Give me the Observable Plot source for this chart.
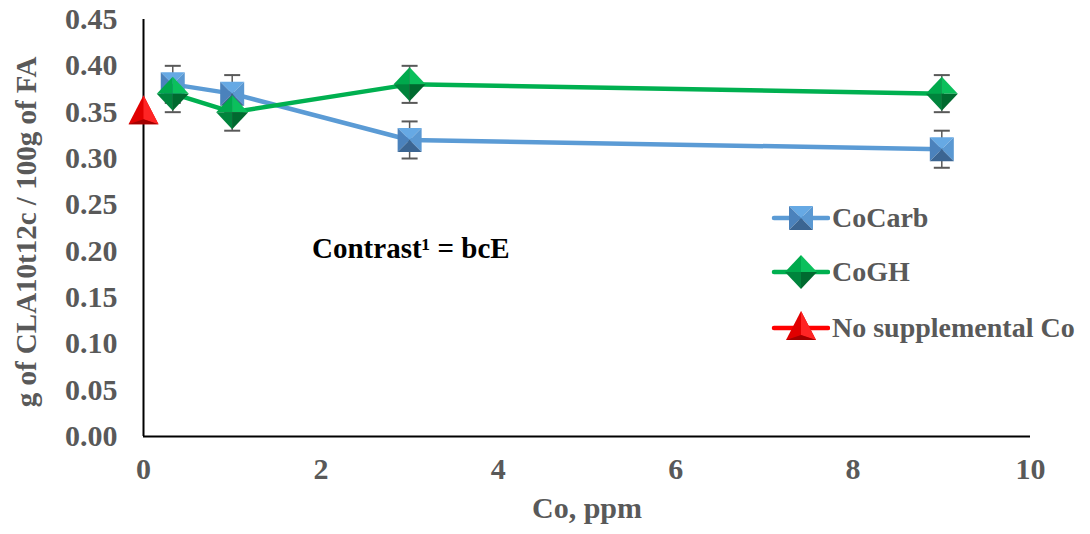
<!DOCTYPE html>
<html><head><meta charset="utf-8">
<script src="https://cdn.jsdelivr.net/npm/d3@7"></script>
<script src="https://cdn.jsdelivr.net/npm/@observablehq/plot@0.6"></script>
<style>
body{margin:0;background:#fff;}
#wrap{position:relative;width:1090px;height:534px;overflow:hidden;}
.leg{position:absolute;left:770px;height:36px;display:flex;align-items:center;font-family:"Liberation Serif","Times New Roman",serif;font-weight:bold;font-size:28px;color:#595959;white-space:nowrap;}
.leg svg{display:block;margin-right:2px;}
</style></head><body><div id="wrap"></div>
<script>
// ---- data ----
const doses = [0.33, 1, 3, 9];
const coCarb = [0.38, 0.37, 0.32, 0.31];
const coCarbErr = [0.02, 0.02, 0.02, 0.02];
const coGH = [0.37, 0.35, 0.38, 0.37];
const coGHErr = [0.02, 0.02, 0.02, 0.02];
const controlDose = [0];
const control = [0.35];
const xTicks = [0, 2, 4, 6, 8, 10];
const yTicks = [0, 0.05, 0.10, 0.15, 0.20, 0.25, 0.30, 0.35, 0.40, 0.45];
const seriesNames = ["CoCarb", "CoGH", "No supplemental Co"];

const carb = doses.map((x, i) => ({x, y: coCarb[i], e: coCarbErr[i]}));
const gh = doses.map((x, i) => ({x, y: coGH[i], e: coGHErr[i]}));
const ctrl = controlDose.map((x, i) => ({x, y: control[i]}));

// ---- custom marker facets ----
const poly = (pts) => ({draw(ctx) { ctx.moveTo(pts[0][0], pts[0][1]); for (let i = 1; i < pts.length; i++) ctx.lineTo(pts[i][0], pts[i][1]); ctx.closePath(); }});
const h = 12;
const sq = {
  top: poly([[-h,-h],[h,-h],[0,0]]),
  left: poly([[-h,-h],[-h,h],[0,0]]),
  right: poly([[h,-h],[h,h],[0,0]]),
  bottom: poly([[-h,h],[h,h],[0,0]])
};
const dw = 16, dh = 17;
const dia = {
  tl: poly([[0,-dh],[-dw,0],[0,0]]),
  tr: poly([[0,-dh],[dw,0],[0,0]]),
  bl: poly([[-dw,0],[0,dh],[0,0]]),
  br: poly([[dw,0],[0,dh],[0,0]])
};
const tri = {
  all: poly([[0,-17],[-15,12],[15,12]]),
  right: poly([[0,-17],[15,12],[0,7]]),
  bottom: poly([[-15,12],[15,12],[0,7]])
};
const cap = {draw(ctx) { ctx.moveTo(-8, 0); ctx.lineTo(8, 0); }};

const squareMarks = (data) => [
  Plot.dot(data, {x:"x", y:"y", symbol: sq.top, r: 5, fill:"#66A9E4", stroke:"none"}),
  Plot.dot(data, {x:"x", y:"y", symbol: sq.right, r: 5, fill:"#5A98D2", stroke:"none"}),
  Plot.dot(data, {x:"x", y:"y", symbol: sq.left, r: 5, fill:"#4B82BC", stroke:"none"}),
  Plot.dot(data, {x:"x", y:"y", symbol: sq.bottom, r: 5, fill:"#3B6592", stroke:"none"})
];
const diamondMarks = (data) => [
  Plot.dot(data, {x:"x", y:"y", symbol: dia.tl, r: 5, fill:"#00A94C", stroke:"none"}),
  Plot.dot(data, {x:"x", y:"y", symbol: dia.tr, r: 5, fill:"#0BC05C", stroke:"none"}),
  Plot.dot(data, {x:"x", y:"y", symbol: dia.bl, r: 5, fill:"#00843C", stroke:"none"}),
  Plot.dot(data, {x:"x", y:"y", symbol: dia.br, r: 5, fill:"#006A2F", stroke:"none"})
];
const triangleMarks = (data) => [
  Plot.dot(data, {x:"x", y:"y", symbol: tri.all, r: 5, fill:"#E00000", stroke:"none"}),
  Plot.dot(data, {x:"x", y:"y", symbol: tri.right, r: 5, fill:"#FF2424", stroke:"none"}),
  Plot.dot(data, {x:"x", y:"y", symbol: tri.bottom, r: 5, fill:"#A30000", stroke:"none"})
];
const errMarks = (data) => [
  Plot.ruleX(data, {x:"x", y1: d => d.y - d.e, y2: d => d.y + d.e, stroke:"#595959", strokeWidth:1.5}),
  Plot.dot(data, {x:"x", y: d => d.y + d.e, symbol: cap, r: 5, stroke:"#595959", strokeWidth:2, fill:"none"}),
  Plot.dot(data, {x:"x", y: d => d.y - d.e, symbol: cap, r: 5, stroke:"#595959", strokeWidth:2, fill:"none"})
];

const font = '"Liberation Serif","Times New Roman",serif';

const chart = Plot.plot({
  width: 1090,
  height: 534,
  marginLeft: 143,
  marginRight: 60,
  marginTop: 19,
  marginBottom: 98,
  style: {fontFamily: font, fontSize: "30px", fontWeight: "bold", color: "#595959", background: "#fff", overflow: "visible"},
  x: {domain: [0, 10]},
  y: {domain: [0, 0.45]},
  marks: [
    Plot.axisX({ticks: xTicks, tickSize: 0, tickPadding: 21, label: null, fontSize: 30, fontFamily: font, fontWeight: "bold"}),
    Plot.axisY({ticks: yTicks, tickSize: 0, tickPadding: 26, tickFormat: d3.format(".2f"), label: null, fontSize: 30, fontFamily: font, fontWeight: "bold"}),
    Plot.ruleY([0], {stroke: "#000", strokeWidth: 2}),
    Plot.ruleX([0], {stroke: "#000", strokeWidth: 2}),
    Plot.text(["g of CLA10t12c / 100g of FA"], {frameAnchor: "left", textAnchor: "middle", dx: -117, dy: 4, rotate: -90, fontSize: 29, fontFamily: font, fontWeight: "bold", fill: "#595959"}),
    Plot.text(["Co, ppm"], {frameAnchor: "bottom", dy: 81, fontSize: 30, fontFamily: font, fontWeight: "bold", fill: "#595959"}),
    Plot.text([{x: 1.9, y: 0.203, t: "Contrast¹ = bcE"}], {x: "x", y: "y", text: "t", textAnchor: "start", fontSize: 29, fontFamily: font, fontWeight: "bold", fill: "#000"}),
    Plot.line(carb, {x: "x", y: "y", stroke: "#5B9BD5", strokeWidth: 4.5}),
    Plot.line(gh, {x: "x", y: "y", stroke: "#00B050", strokeWidth: 4.5}),
    ...errMarks(carb),
    ...errMarks(gh),
    ...squareMarks(carb),
    ...diamondMarks(gh),
    ...triangleMarks(ctrl)
  ]
});
const wrap = document.getElementById("wrap");
wrap.appendChild(chart);

// ---- legend ----
const legendRows = [
  {name: seriesNames[0], color: "#5B9BD5", marker: sq, fills: [["top","#66A9E4"],["right","#5A98D2"],["left","#4B82BC"],["bottom","#3B6592"]], top: 200},
  {name: seriesNames[1], color: "#00B050", marker: dia, fills: [["tl","#00A94C"],["tr","#0BC05C"],["bl","#00843C"],["br","#006A2F"]], top: 254},
  {name: seriesNames[2], color: "#FF0000", marker: tri, fills: [["all","#E00000"],["right","#FF2424"],["bottom","#A30000"]], top: 310}
];
legendRows.forEach(r => {
  const div = document.createElement("div");
  div.className = "leg";
  div.style.top = r.top + "px";
  const s = d3.create("svg").attr("width", 60).attr("height", 36);
  s.append("line").attr("x1", 4).attr("x2", 58).attr("y1", 18).attr("y2", 18).attr("stroke", r.color).attr("stroke-width", 4.5).attr("stroke-linecap", "round");
  const g = s.append("g").attr("transform", "translate(31,18)");
  r.fills.forEach(([k, c]) => {
    const p = d3.path(); r.marker[k].draw(p);
    g.append("path").attr("d", p.toString()).attr("fill", c);
  });
  div.appendChild(s.node());
  const span = document.createElement("span");
  span.textContent = r.name;
  div.appendChild(span);
  wrap.appendChild(div);
});
</script>
</body></html>
